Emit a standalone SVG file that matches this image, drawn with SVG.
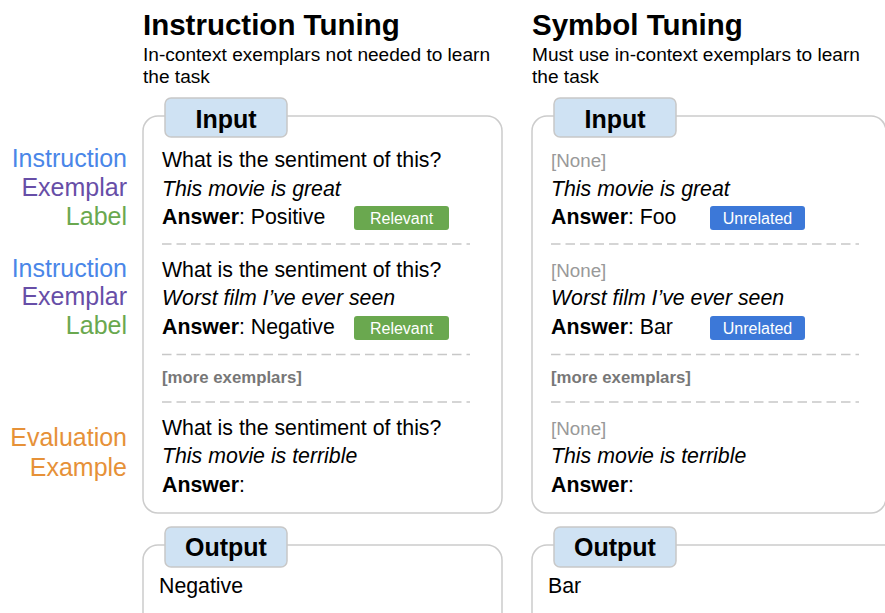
<svg xmlns="http://www.w3.org/2000/svg" width="885" height="613" viewBox="0 0 885 613">
<style>
text{font-family:"Liberation Sans",Arial,sans-serif;fill:#000}
.title{font-size:29.5px;font-weight:bold}
.sub{font-size:19.1px}
.box{fill:#fff;stroke:#cccccc;stroke-width:1.5}
.tab{fill:#cfe2f3;stroke:#c8c8c8;stroke-width:1.5}
.tabt{font-size:25px;font-weight:bold;text-anchor:middle}
.t{font-size:21.3px}
.i{font-size:21.3px;font-style:italic}
.b{font-weight:bold}
.none{font-size:18.8px;fill:#999999}
.more{font-size:16.8px;font-weight:bold;fill:#777777}
.dash{stroke:#c8c8c8;stroke-width:1.5;stroke-dasharray:9.5 5}
.lab{font-size:25px;text-anchor:end}
.ins{fill:#4a86e8}
.exm{fill:#674ea7}
.lbl{fill:#6aa84f}
.ev{fill:#e69138}
.badge-g{fill:#6aa84f}
.badge-b{fill:#3c78d8}
.bt{font-size:16px;fill:#fff;text-anchor:middle}
</style>
<rect width="885" height="613" fill="#fff"/>

<g id="headings">
<text class="title" x="143" y="35">Instruction Tuning</text>
<text class="sub" x="143" y="61">In-context exemplars not needed to learn</text>
<text class="sub" x="143" y="83">the task</text>
<text class="title" x="532" y="35">Symbol Tuning</text>
<text class="sub" x="532" y="61">Must use in-context exemplars to learn</text>
<text class="sub" x="532" y="83">the task</text>
</g>

<g id="side-labels">
<text class="lab ins" x="127" y="167">Instruction</text>
<text class="lab exm" x="127" y="196">Exemplar</text>
<text class="lab lbl" x="127" y="225">Label</text>
<text class="lab ins" x="127" y="277">Instruction</text>
<text class="lab exm" x="127" y="305">Exemplar</text>
<text class="lab lbl" x="127" y="334">Label</text>
<text class="lab ev" x="127" y="446">Evaluation</text>
<text class="lab ev" x="127" y="476">Example</text>
</g>

<g id="instruction-input">
<rect class="box" x="143" y="116" width="359" height="397" rx="15"/>
<rect class="tab" x="165" y="98" width="122" height="39" rx="6"/>
<text class="tabt" x="226" y="128">Input</text>
<text class="t" x="162" y="167">What is the sentiment of this?</text>
<text class="i" x="162" y="196">This movie is great</text>
<text class="t" x="162" y="224"><tspan class="b">Answer</tspan>: Positive</text>
<rect class="badge-g" x="354" y="206" width="95" height="24" rx="3"/>
<text class="bt" x="401.5" y="224">Relevant</text>
<line class="dash" x1="162" y1="244" x2="470" y2="244"/>
<text class="t" x="162" y="277">What is the sentiment of this?</text>
<text class="i" x="162" y="305">Worst film I’ve ever seen</text>
<text class="t" x="162" y="334"><tspan class="b">Answer</tspan>: Negative</text>
<rect class="badge-g" x="354" y="316" width="95" height="24" rx="3"/>
<text class="bt" x="401.5" y="334">Relevant</text>
<line class="dash" x1="162" y1="354.5" x2="470" y2="354.5"/>
<text class="more" x="162" y="383">[more exemplars]</text>
<line class="dash" x1="162" y1="402" x2="470" y2="402"/>
<text class="t" x="162" y="435">What is the sentiment of this?</text>
<text class="i" x="162" y="463">This movie is terrible</text>
<text class="t" x="162" y="492"><tspan class="b">Answer</tspan>:</text>
</g>

<g id="instruction-output">
<rect class="box" x="143" y="545" width="359" height="100" rx="15"/>
<rect class="tab" x="165" y="527" width="122" height="40" rx="6"/>
<text class="tabt" x="226" y="556">Output</text>
<text class="t" x="159" y="593">Negative</text>
</g>

<g id="symbol-input">
<rect class="box" x="532" y="116" width="354" height="397" rx="15"/>
<rect class="tab" x="554" y="98" width="122" height="39" rx="6"/>
<text class="tabt" x="615" y="128">Input</text>
<text class="none" x="551" y="167">[None]</text>
<text class="i" x="551" y="196">This movie is great</text>
<text class="t" x="551" y="224"><tspan class="b">Answer</tspan>: Foo</text>
<rect class="badge-b" x="710" y="206" width="95" height="24" rx="3"/>
<text class="bt" x="757.5" y="224">Unrelated</text>
<line class="dash" x1="551" y1="244" x2="859" y2="244"/>
<text class="none" x="551" y="277">[None]</text>
<text class="i" x="551" y="305">Worst film I’ve ever seen</text>
<text class="t" x="551" y="334"><tspan class="b">Answer</tspan>: Bar</text>
<rect class="badge-b" x="710" y="316" width="95" height="24" rx="3"/>
<text class="bt" x="757.5" y="334">Unrelated</text>
<line class="dash" x1="551" y1="354.5" x2="859" y2="354.5"/>
<text class="more" x="551" y="383">[more exemplars]</text>
<line class="dash" x1="551" y1="402" x2="859" y2="402"/>
<text class="none" x="551" y="435">[None]</text>
<text class="i" x="551" y="463">This movie is terrible</text>
<text class="t" x="551" y="492"><tspan class="b">Answer</tspan>:</text>
</g>

<g id="symbol-output">
<rect class="box" x="532" y="545" width="380" height="100" rx="15"/>
<rect class="tab" x="554" y="527" width="122" height="40" rx="6"/>
<text class="tabt" x="615" y="556">Output</text>
<text class="t" x="548" y="593">Bar</text>
</g>
</svg>
